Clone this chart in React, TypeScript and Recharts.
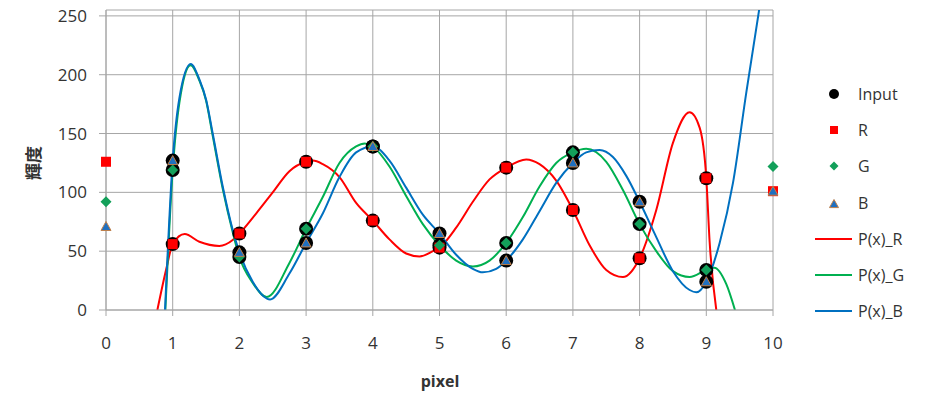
import { CartesianGrid, ComposedChart, Line, Scatter, XAxis, YAxis } from 'recharts';

// measured pixel values (x = 0..10)
const pixels = [0, 1, 2, 3, 4, 5, 6, 7, 8, 9, 10];
const valuesR = [126, 56, 65, 126, 76, 53, 121, 85, 44, 112, 101];
const valuesG = [92, 119, 45, 69, 139, 55, 57, 134, 73, 34, 122];
const valuesB = [71, 127, 49, 57, 139, 65, 42, 125, 92, 24, 101];

// interpolated curves
const curveRX = [0.77, 0.9, 1, 1.18, 1.4, 1.7, 1.9, 2, 2.25, 2.5, 2.75, 3, 3.1, 3.25, 3.5, 3.75, 4, 4.25, 4.5, 4.7, 4.9, 5, 5.25, 5.5, 5.75, 6, 6.3, 6.5, 6.75, 7, 7.25, 7.5, 7.75, 8, 8.25, 8.5, 8.75, 8.9, 9, 9.05, 9.15];
const curveRY = [0, 34, 56, 64.5, 58, 54.5, 59.5, 65, 82, 100, 118, 126, 127, 124, 113, 91, 76, 60, 48, 45.5, 50, 53, 70, 92, 111, 121, 128, 124, 110, 85, 55, 34, 28, 44, 85, 142, 168, 155, 112, 58, 0];

const curveGX = [0.89, 1, 1.1, 1.27, 1.4, 1.5, 1.6, 1.75, 1.9, 2, 2.2, 2.41, 2.75, 3, 3.25, 3.5, 3.75, 3.88, 4, 4.25, 4.5, 4.75, 5, 5.25, 5.5, 5.75, 6, 6.25, 6.5, 6.75, 7, 7.2, 7.5, 7.75, 8, 8.25, 8.5, 8.75, 9, 9.12, 9.3, 9.43];
const curveGY = [0, 119, 176, 208, 195, 178, 148, 103, 66, 45, 23, 11, 40, 69, 96, 125, 139, 141.5, 139, 122, 97, 73, 55, 42, 37, 42, 57, 79, 105, 125, 134, 137, 126, 102, 73, 50, 33, 28, 34, 36, 22, 0];

const curveBX = [0.885, 1, 1.1, 1.27, 1.4, 1.5, 1.6, 1.75, 1.9, 2, 2.2, 2.46, 2.75, 3, 3.25, 3.5, 3.75, 4, 4.25, 4.5, 4.75, 5, 5.25, 5.5, 5.65, 5.85, 6, 6.25, 6.5, 6.75, 7, 7.2, 7.4, 7.6, 7.8, 8, 8.25, 8.5, 8.75, 8.85, 9, 9.2, 9.4, 9.6, 9.8];
const curveBY = [0, 127, 180, 209, 196, 179, 150, 105, 68, 49, 24, 9, 31, 57, 82, 113, 134, 139, 127, 104, 81, 65, 47, 35, 32, 35, 42, 60, 84, 108, 125, 134, 136, 130, 114, 92, 62, 33, 17, 15, 24, 57, 108, 185, 258];

const xTicks = [0, 1, 2, 3, 4, 5, 6, 7, 8, 9, 10];
const yTicks = [0, 50, 100, 150, 200, 250];

const RED = '#ff0000';
const GREEN = '#00b050';
const GREEN_MARK = '#13a05a';
const BLUE = '#0070c0';
const BLUE_MARK = '#2070c0';
const TRI_EDGE = '#c0804a';
const GRID = '#a6a6a6';
const TEXT = '#333333';

const toPoints = (xs: number[], ys: number[]) => xs.map((x, i) => ({ x, y: ys[i] }));

const pointsR = toPoints(pixels, valuesR);
const pointsG = toPoints(pixels, valuesG);
const pointsB = toPoints(pixels, valuesB);
const inputPoints = [
  ...pointsR.slice(1, 10),
  ...pointsG.slice(1, 10),
  ...pointsB.slice(1, 10),
];

const Dot = ({ cx, cy, r = 7 }: any) => <circle cx={cx} cy={cy} r={r} fill="#000" />;
const Square = ({ cx, cy, s = 5 }: any) => (
  <rect x={cx - s} y={cy - s} width={s * 2} height={s * 2} fill={RED} />
);
const Diamond = ({ cx, cy, s = 5.5 }: any) => (
  <polygon points={`${cx},${cy - s} ${cx + s},${cy} ${cx},${cy + s} ${cx - s},${cy}`} fill={GREEN_MARK} />
);
const Triangle = ({ cx, cy, s = 5 }: any) => (
  <polygon
    points={`${cx},${cy - s} ${cx + s},${cy + s * 0.8} ${cx - s},${cy + s * 0.8}`}
    fill={BLUE_MARK}
    stroke={TRI_EDGE}
    strokeWidth={1}
  />
);

const legendItems = [
  { name: 'Input', kind: 'dot' },
  { name: 'R', kind: 'square' },
  { name: 'G', kind: 'diamond' },
  { name: 'B', kind: 'triangle' },
  { name: 'P(x)_R', kind: 'line', color: RED },
  { name: 'P(x)_G', kind: 'line', color: GREEN },
  { name: 'P(x)_B', kind: 'line', color: BLUE },
];

function LegendIcon({ kind, color }: { kind: string; color?: string }) {
  return (
    <svg width={40} height={14} style={{ display: 'block' }}>
      {kind === 'dot' && <Dot cx={20} cy={7} r={5} />}
      {kind === 'square' && <Square cx={20} cy={7} s={4} />}
      {kind === 'diamond' && <Diamond cx={20} cy={7} s={4.5} />}
      {kind === 'triangle' && <Triangle cx={20} cy={8} s={4.5} />}
      {kind === 'line' && <line x1={1} y1={7} x2={38} y2={7} stroke={color} strokeWidth={2} />}
    </svg>
  );
}

export default function App() {
  return (
    <div
      style={{
        position: 'absolute',
        left: 0,
        top: 0,
        width: 926,
        height: 393,
        background: '#fff',
        fontFamily: '"Open Sans", sans-serif',
      }}
    >
      <ComposedChart
        width={926}
        height={393}
        margin={{ top: 10, right: 153, bottom: 23, left: 0 }}
        style={{ fontFamily: '"Open Sans", sans-serif' }}
      >
        <CartesianGrid stroke={GRID} strokeWidth={1} />
        <XAxis
          type="number"
          dataKey="x"
          domain={[0, 10]}
          ticks={xTicks}
          interval={0}
          height={60}
          tickSize={6}
          tickMargin={21}
          stroke={GRID}
          tick={{ fontSize: 17, fill: TEXT }}
        />
        <YAxis
          type="number"
          dataKey="y"
          domain={[0, 255]}
          ticks={yTicks}
          interval={0}
          allowDataOverflow
          width={106}
          tickSize={7}
          tickMargin={12}
          stroke={GRID}
          tick={{ fontSize: 17, fill: TEXT }}
        />
        <Line data={toPoints(curveRX, curveRY)} dataKey="y" type="monotone" stroke={RED} strokeWidth={2} dot={false} isAnimationActive={false} />
        <Line data={toPoints(curveGX, curveGY)} dataKey="y" type="monotone" stroke={GREEN} strokeWidth={2} dot={false} isAnimationActive={false} />
        <Line data={toPoints(curveBX, curveBY)} dataKey="y" type="monotone" stroke={BLUE} strokeWidth={2} dot={false} isAnimationActive={false} />
        <Scatter data={inputPoints} dataKey="y" shape={(p: any) => <Dot cx={p.cx} cy={p.cy} />} isAnimationActive={false} />
        <Scatter data={pointsR} dataKey="y" shape={(p: any) => <Square cx={p.cx} cy={p.cy} />} isAnimationActive={false} />
        <Scatter data={pointsG} dataKey="y" shape={(p: any) => <Diamond cx={p.cx} cy={p.cy} />} isAnimationActive={false} />
        <Scatter data={pointsB} dataKey="y" shape={(p: any) => <Triangle cx={p.cx} cy={p.cy} />} isAnimationActive={false} />
      </ComposedChart>

      <div
        style={{
          position: 'absolute',
          left: 10,
          top: 163,
          transform: 'translate(-50%, -50%) rotate(-90deg)',
          transformOrigin: 'center',
          marginLeft: 22,
          fontFamily: '"Noto Sans CJK JP", sans-serif',
          fontWeight: 700,
          fontSize: 17,
          color: TEXT,
          whiteSpace: 'nowrap',
        }}
      >
        輝度
      </div>
      <div
        style={{
          position: 'absolute',
          left: 440,
          top: 381,
          transform: 'translate(-50%, -50%)',
          fontWeight: 700,
          fontSize: 16,
          color: TEXT,
        }}
      >
        pixel
      </div>

      {legendItems.map((item, i) => (
        <div
          key={item.name}
          style={{
            position: 'absolute',
            left: 814,
            top: 94 + i * 36.2 - 10,
            height: 20,
            display: 'flex',
            alignItems: 'center',
            fontSize: 16,
            color: TEXT,
          }}
        >
          <LegendIcon kind={item.kind} color={item.color} />
          <span style={{ marginLeft: 4 }}>{item.name}</span>
        </div>
      ))}
    </div>
  );
}
